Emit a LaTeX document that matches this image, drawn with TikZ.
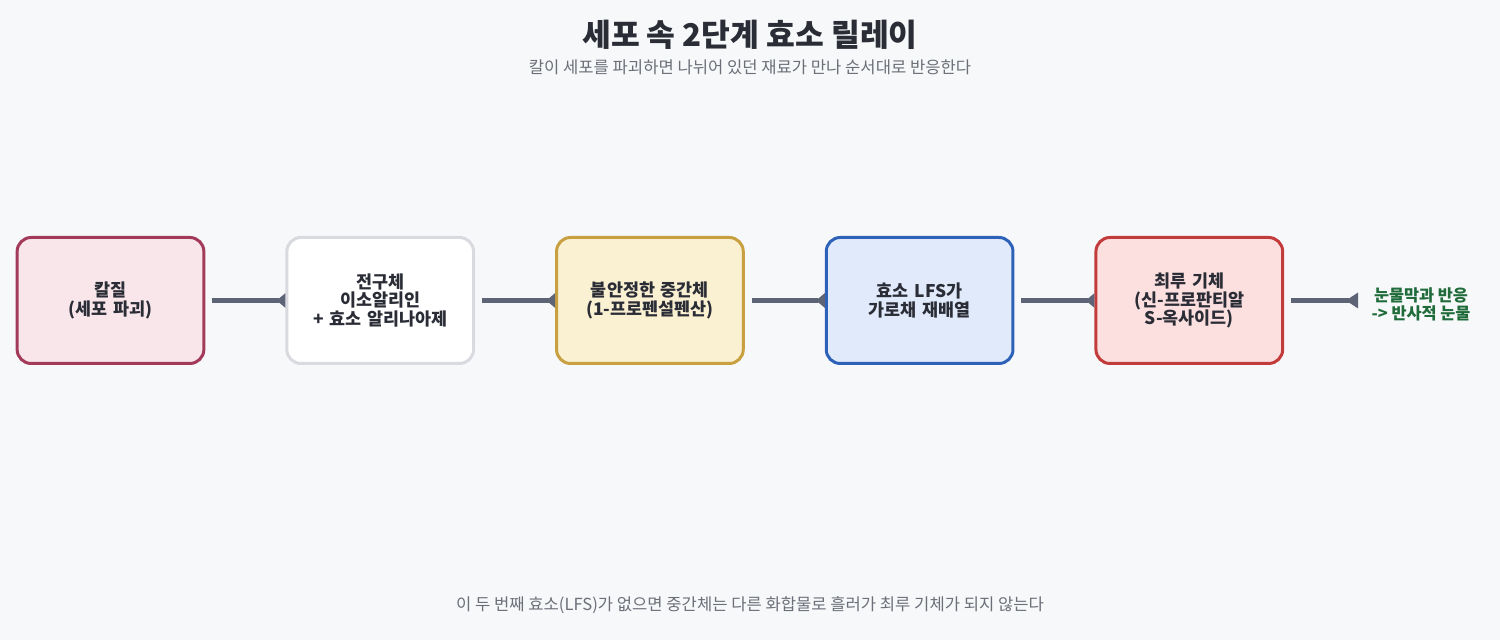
\documentclass[tikz,border=0pt]{standalone}
\usepackage{fontspec}
\setmainfont{Noto Sans CJK KR}
\usepackage{tikz}
\usetikzlibrary{positioning,arrows.meta}
\definecolor{bg}{HTML}{F7F8FA}
\definecolor{ink}{HTML}{2B2D36}
\definecolor{muted}{HTML}{6B6F78}
\definecolor{wire}{HTML}{5D6475}
\definecolor{knifeF}{HTML}{F8E6EA}\definecolor{knifeD}{HTML}{A33A5A}
\definecolor{precF}{HTML}{FFFFFF}\definecolor{precD}{HTML}{D8DAE0}
\definecolor{interF}{HTML}{FAF0D2}\definecolor{interD}{HTML}{C9A040}
\definecolor{lfsF}{HTML}{E0EAFA}\definecolor{lfsD}{HTML}{2E62B8}
\definecolor{gasF}{HTML}{FCE0E0}\definecolor{gasD}{HTML}{C23C3C}
\definecolor{tearG}{HTML}{1F6B3A}
\tikzset{
 b/.style
  = {rectangle, draw, line width=1.7pt, rounded corners=0.28cm,
     minimum width=3.72cm, minimum height=2.52cm, text width=3.5cm,
     align=center, text=ink, font=\bfseries\fontsize{9.9}{10.6}\selectfont},
 l/.style
  = {draw=wire, line width=2.3pt, shorten <=0.14cm,
     -{Triangle[reversed, length=5pt, width=8pt]}},
 t/.style
  = {align=center, text=muted, font=\fontsize{9.45}{11}\selectfont},
}

\begin{document}
\begin{tikzpicture}
    \fill [bg] (0,0) rectangle (30,12.8);
    \node [font=\bfseries\fontsize{17.8}{20}\selectfont, text=ink] (title) at (15,12.1) {세포 속 2단계 효소 릴레이};
    \node [t] (subtitle) at (15,11.46) {칼이 세포를 파괴하면 나뉘어 있던 재료가 만나 순서대로 반응한다};

    \node [b, fill=knifeF, draw=knifeD] (knife) at (2.21,6.79) {칼질\\(세포 파괴)};
    \node [b, fill=precF, draw=precD, right = 1.6cm of knife] (precursor) {전구체\\이소알리인\\+ 효소 알리나아제};
    \node [b, fill=interF, draw=interD, right = 1.6cm of precursor] (inter) {불안정한 중간체\\(1-프로펜설펜산)};
    \node [b, fill=lfsF, draw=lfsD, right = 1.6cm of inter] (lfs) {효소 LFS가\\가로채 재배열};
    \node [b, fill=gasF, draw=gasD, right = 1.6cm of lfs] (gas) {최루 기체\\(신-프로판티알\\S-옥사이드)};
    \node [align=center, text=tearG, font=\bfseries\fontsize{9.3}{10.2}\selectfont] (tears) at (28.42,6.72) {눈물막과 반응\\-> 반사적 눈물};
    \coordinate (tearend) at (27.16,6.79);

    \path [l] (knife) -- (precursor);
    \path [l] (precursor) -- (inter);
    \path [l] (inter) -- (lfs);
    \path [l] (lfs) -- (gas);
    \path [l, -{Triangle[reversed, length=7pt, width=8.5pt]}] (gas) -- (tearend);

    \node [t] (note) at (15,0.70) {이 두 번째 효소(LFS)가 없으면 중간체는 다른 화합물로 흘러가 최루 기체가 되지 않는다};
\end{tikzpicture}
\end{document}
